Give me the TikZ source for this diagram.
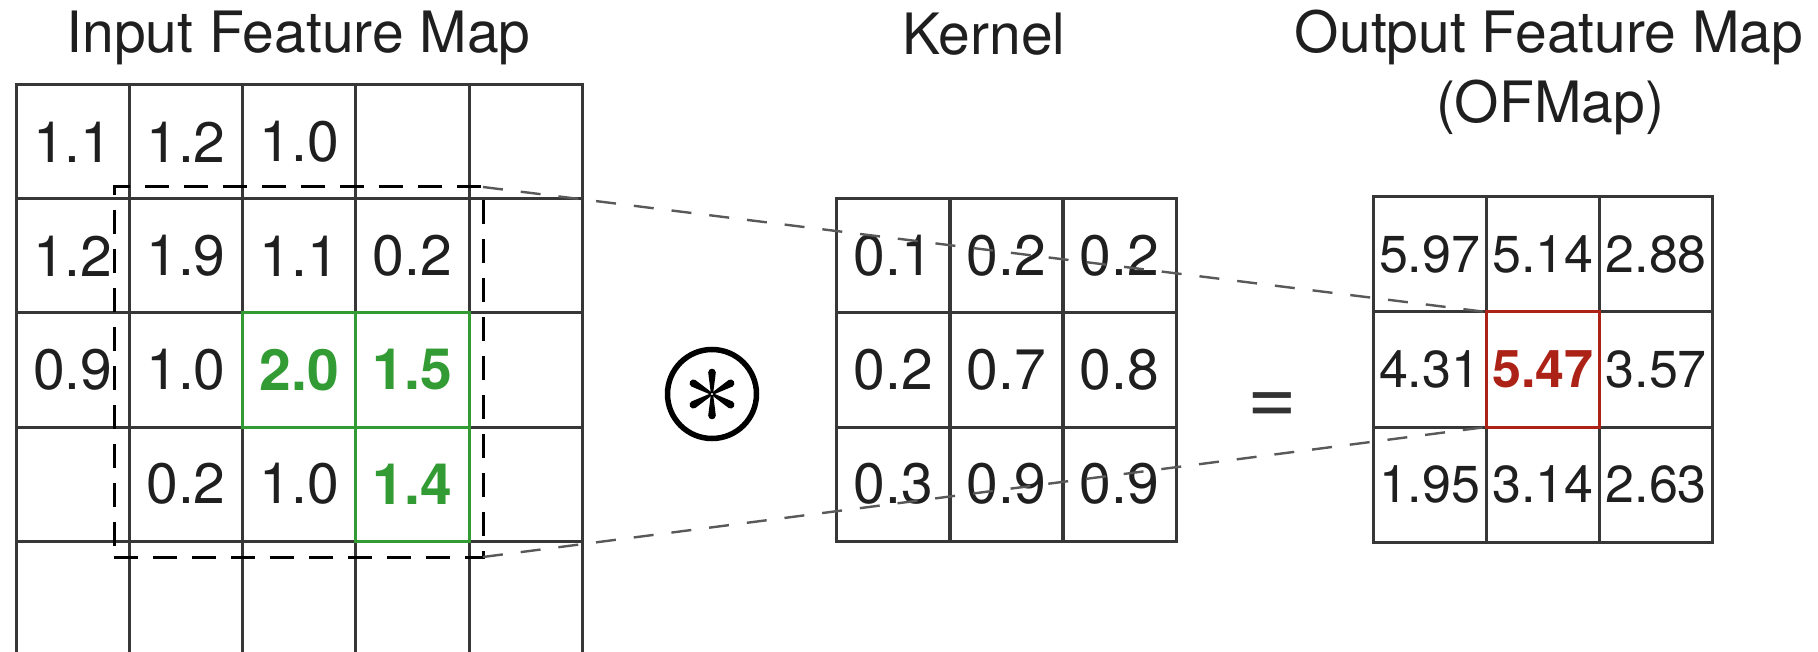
\documentclass[tikz,border=0pt]{standalone}
\usepackage{fontspec}
\setmainfont{TeX Gyre Heros}
\usetikzlibrary{calc}
\newcommand\mycellfont{\fontsize{57}{68}\selectfont}
\newcommand\myofont{\fontsize{52}{62}\selectfont}
\newcommand\myeqfont{\fontsize{85}{100}\selectfont}
\definecolor{hitgreen}{RGB}{51,155,51}
\definecolor{hitred}{RGB}{172,34,22}
\definecolor{gridgray}{RGB}{55,55,55}
\begin{document}
\begin{tikzpicture}[x=1pt,y=-1pt,
  cell/.style={draw=gridgray, line width=3, inner sep=0, outer sep=0,
    minimum width=113.3, minimum height=114, font=\mycellfont, text=black!88},
  ocell/.style={cell, minimum height=115, font=\myofont},
  gval/.style={text=hitgreen, font=\mycellfont\bfseries},
  rval/.style={text=hitred, font=\myofont\bfseries},
  greenline/.style={draw=hitgreen, line width=3},
  redline/.style={draw=hitred, line width=3},
  winbox/.style={draw=black, line width=3, dash pattern=on 24pt off 15pt,
    inner sep=0, outer sep=0},
  conn/.style={draw=black!65, line width=2.4, dash pattern=on 20pt off 18pt},
  title/.style={font=\mycellfont, text=black!88, inner sep=0, anchor=base},
  opcircle/.style={circle, draw=black, line width=5.5, minimum size=89, inner sep=0},
  oparm/.style={fill=black},
]
\useasboundingbox[fill=white] (0,0) rectangle (1818,652);

% ---------- Input feature map ----------
\foreach \c/\v in {1/1.1,2/1.2,3/1.0,4/,5/}
  \node[cell] (in-1-\c) at ({16+113.3*(\c-0.5)},142) {\v};
\foreach \c/\v in {1/1.2,2/1.9,3/1.1,4/0.2,5/}
  \node[cell] (in-2-\c) at ({16+113.3*(\c-0.5)},256) {\v};
\foreach \c/\v in {1/0.9,2/1.0,5/}
  \node[cell] (in-3-\c) at ({16+113.3*(\c-0.5)},370) {\v};
\node[cell, gval] (in-3-3) at ({16+113.3*2.5},370) {2.0};
\node[cell, gval] (in-3-4) at ({16+113.3*3.5},370) {1.5};
\foreach \c/\v in {1/,2/0.2,3/1.0,5/}
  \node[cell] (in-4-\c) at ({16+113.3*(\c-0.5)},484) {\v};
\node[cell, gval] (in-4-4) at ({16+113.3*3.5},484) {1.4};
\foreach \c in {1,...,5}
  \node[cell] (in-5-\c) at ({16+113.3*(\c-0.5)},598) {};

\draw[greenline] (in-3-3.north west) rectangle (in-3-3.south east);
\draw[greenline] (in-3-4.north west) rectangle (in-3-4.south east);
\draw[greenline] (in-4-4.north west) rectangle (in-4-4.south east);

% sliding window
\node[winbox, minimum width=369, minimum height=370] (win) at (298.5,372) {};

% ---------- Kernel ----------
\foreach \c/\v in {1/0.1,2/0.2,3/0.2}
  \node[cell] (k-1-\c) at ({837+113*(\c-0.5)},256) {\v};
\foreach \c/\v in {1/0.2,2/0.7,3/0.8}
  \node[cell] (k-2-\c) at ({837+113*(\c-0.5)},370) {\v};
\foreach \c/\v in {1/0.3,2/0.9,3/0.9}
  \node[cell] (k-3-\c) at ({837+113*(\c-0.5)},484) {\v};

% ---------- Output feature map ----------
\foreach \c/\v in {1/5.97,2/5.14,3/2.88}
  \node[ocell] (o-1-\c) at ({1373+113.3*(\c-0.5)},254.5) {\v};
\foreach \c/\v in {1/4.31,3/3.57}
  \node[ocell] (o-2-\c) at ({1373+113.3*(\c-0.5)},369.5) {\v};
\node[ocell, rval] (o-2-2) at ({1373+113.3*1.5},369.5) {5.47};
\foreach \c/\v in {1/1.95,2/3.14,3/2.63}
  \node[ocell] (o-3-\c) at ({1373+113.3*(\c-0.5)},484.5) {\v};
\draw[redline] (o-2-2.north west) rectangle (o-2-2.south east);

% ---------- connectors ----------
\draw[conn] (win.north east) -- (o-2-2.north west);
\draw[conn] (win.south east) -- (o-2-2.south west);

% ---------- operators ----------
\node[opcircle] (conv) at (712,394) {};
\foreach \a in {90,30,-30,-90,-150,150}{
  \begin{scope}[shift={(conv.center)}, rotate=\a]
    \fill[oparm] (1,-1.2) -- (21.5,-3.8) arc[start angle=-90, end angle=90, radius=3.8] -- (1,1.2) -- cycle;
  \end{scope}
}
\node[inner sep=0, anchor=base, font=\myeqfont, text=black!80] (eq) at (1272,424) {=};

% ---------- titles ----------
\node[title] (t-in) at (298.5,53) {Input Feature Map};
\node[title] (t-k) at (984,55) {Kernel};
\node[title] (t-out) at (1549,53) {Output Feature Map};
\node[title] (t-of) at (1550,123) {(OFMap)};
\end{tikzpicture}
\end{document}
